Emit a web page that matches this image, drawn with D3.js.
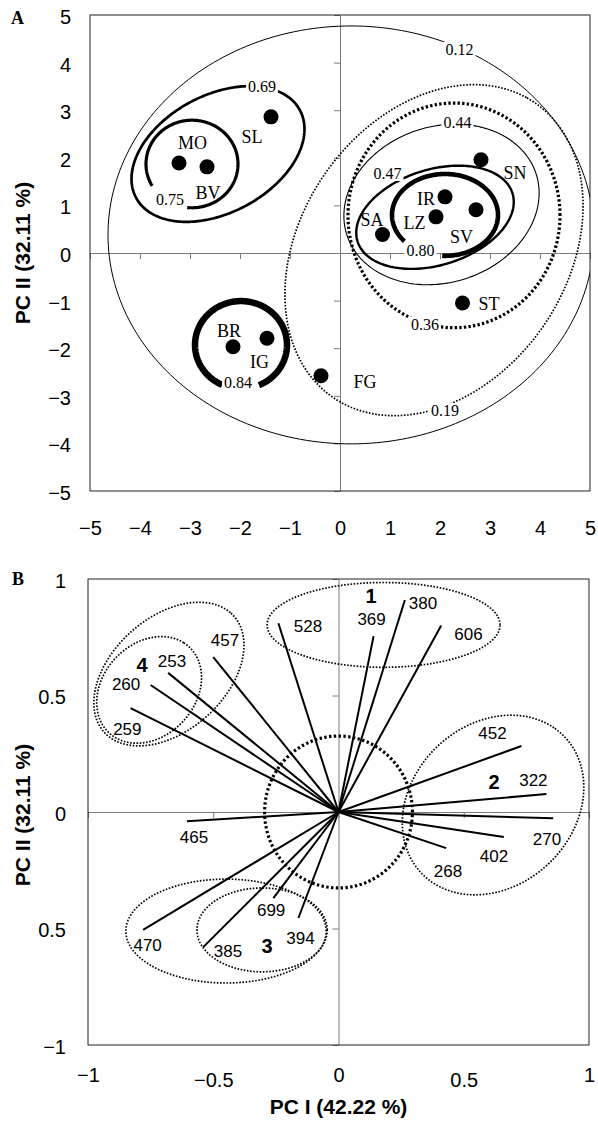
<!DOCTYPE html>
<html>
<head>
<meta charset="utf-8">
<script src="https://d3js.org/d3.v7.min.js"></script>
<style>
  body { margin: 0; background: #fff; }
  svg { display: block; }
</style>
</head>
<body>
<script>
// ---------- panel A : samples on PC I / PC II ----------
var sampleNames = ["MO", "BV", "SL", "SN", "IR", "LZ", "SV", "SA", "ST", "FG", "BR", "IG"];
var sampleX = [-3.22, -2.66, -1.38, 2.82, 2.10, 1.92, 2.72, 0.85, 2.45, -0.38, -2.14, -1.46];
var sampleY = [1.89, 1.81, 2.86, 1.96, 1.18, 0.76, 0.91, 0.39, -1.05, -2.58, -1.97, -1.79];
var sampleLabelX = [-2.95, -2.64, -1.76, 3.50, 1.72, 1.49, 2.43, 0.64, 2.98, 0.50, -2.22, -1.61];
var sampleLabelY = [2.32, 1.27, 2.43, 1.69, 1.13, 0.64, 0.33, 0.70, -1.07, -2.71, -1.64, -2.29];

// similarity contours, drawn as ellipses (PC units)
var levelNames = ["0.12", "0.19", "0.36", "0.44", "0.47", "0.69", "0.75", "0.80", "0.84"];
var levelCx = [0.22, 1.88, 2.28, 2.03, 1.90, -2.44, -2.96, 2.10, -1.98];
var levelCy = [0.38, 0.06, 0.79, 1.02, 0.75, 2.08, 1.87, 0.80, -1.93];
var levelA = [4.86, 3.70, 2.12, 2.00, 1.63, 1.88, 0.92, 1.06, 0.92];
var levelB = [4.39, 2.70, 2.36, 1.63, 1.00, 1.22, 0.92, 0.86, 0.92];
var levelAngle = [0, 60, 0, 22, 19, 31, 0, 0, 0];
var levelFrom = [0, 0, 0, 0, 0, 0, -96, -93, -67];
var levelTo = [360, 360, 360, 360, 360, 360, 210, 220, 246];
var levelLabelX = [2.39, 2.10, 1.70, 2.35, 0.95, -1.56, -3.40, 1.61, -2.04];
var levelLabelY = [4.28, -3.31, -1.50, 2.74, 1.67, 3.49, 1.12, 0.05, -2.72];

// ---------- panel B : loadings ----------
var loadingNames = ["259", "260", "253", "457", "528", "369", "380", "606", "452", "322", "270", "402", "268", "465", "470", "385", "699", "394"];
var loadingX = [-0.83, -0.75, -0.68, -0.50, -0.24, 0.14, 0.265, 0.41, 0.73, 0.83, 0.857, 0.66, 0.43, -0.605, -0.78, -0.54, -0.26, -0.16];
var loadingY = [0.446, 0.545, 0.597, 0.665, 0.81, 0.755, 0.91, 0.80, 0.283, 0.077, -0.027, -0.107, -0.155, -0.04, -0.506, -0.58, -0.37, -0.455];
var loadingLabelX = [-0.843, -0.848, -0.665, -0.453, -0.122, 0.132, 0.337, 0.519, 0.615, 0.778, 0.832, 0.621, 0.437, -0.577, -0.762, -0.441, -0.269, -0.152];
var loadingLabelY = [0.352, 0.549, 0.648, 0.738, 0.798, 0.828, 0.895, 0.762, 0.337, 0.137, -0.118, -0.191, -0.255, -0.109, -0.571, -0.599, -0.421, -0.541];

var groupNames = ["1", "2", "3", "4"];
var groupLabelX = [0.13, 0.621, -0.285, -0.784];
var groupLabelY = [0.925, 0.127, -0.577, 0.631];

// dotted rings round the groups (first one = central circle)
var ringCx = [0, 0.18, 0.617, -0.449, -0.305, -0.677, -0.756];
var ringCy = [0, 0.803, 0.03, -0.511, -0.506, 0.592, 0.524];
var ringA = [0.295, 0.465, 0.411, 0.40, 0.26, 0.36, 0.245];
var ringB = [0.326, 0.182, 0.333, 0.223, 0.18, 0.235, 0.19];
var ringAngle = [0, 0, 53.7, 0, 0, 47, 55.5];

// tick labels
var ticksA = [-5, -4, -3, -2, -1, 0, 1, 2, 3, 4, 5];
var ticksB = [-1, -0.5, 0, 0.5, 1];
var xTickLabelsB = ["\u22121", "\u22120.5", "0", "0.5", "1"];
var yTickLabelsB = ["\u22121", "0.5", "0", "0.5", "1"];

var SANS = "'Liberation Sans', Arial, sans-serif";
var SERIF = "'Liberation Serif', 'Times New Roman', serif";

var levelStyle = {
  "0.12": {w: 1, dash: null},
  "0.19": {w: 1.7, dash: "1.6 1.6"},
  "0.36": {w: 3.2, dash: "2.4 2.2"},
  "0.44": {w: 1.1, dash: null},
  "0.47": {w: 2.4, dash: null},
  "0.69": {w: 2.7, dash: null},
  "0.75": {w: 3.2, dash: null},
  "0.80": {w: 4.6, dash: null},
  "0.84": {w: 6.5, dash: null}
};

var svg = d3.select("body").append("svg")
  .attr("width", 598)
  .attr("height", 1126);

function ellipsePts(cx, cy, a, b, ang, t0, t1) {
  var th = ang * Math.PI / 180;
  return d3.range(0, 241).map(function(i) {
    var t = (t0 + (t1 - t0) * i / 240) * Math.PI / 180;
    var ex = a * Math.cos(t), ey = b * Math.sin(t);
    return [cx + ex * Math.cos(th) - ey * Math.sin(th), cy + ex * Math.sin(th) + ey * Math.cos(th)];
  });
}

function drawFrame(g, x, y, id) {
  var x0 = x.range()[0], x1 = x.range()[1], y0 = y.range()[1], y1 = y.range()[0];
  g.append("clipPath").attr("id", id).append("rect")
    .attr("x", x0).attr("y", y0).attr("width", x1 - x0).attr("height", y1 - y0);
}

// ================= PANEL A =================
var xA = d3.scaleLinear().domain([-5, 5]).range([90, 590]);
var yA = d3.scaleLinear().domain([-5, 5]).range([491, 15]);
var gA = svg.append("g");
drawFrame(gA, xA, yA, "clipA");

// zero lines with small ticks
gA.append("g")
  .attr("transform", "translate(0," + yA(0) + ")")
  .call(d3.axisBottom(xA).tickValues(ticksA).tickSize(6).tickSizeOuter(0).tickFormat(""))
  .call(function(s) { s.selectAll("path,line").attr("stroke", "#7a7a7a"); });
gA.append("g")
  .attr("transform", "translate(" + xA(0) + ",0)")
  .call(d3.axisLeft(yA).tickValues(ticksA).tickSize(6).tickSizeOuter(0).tickFormat(""))
  .call(function(s) { s.selectAll("path,line").attr("stroke", "#7a7a7a"); });

gA.append("rect")
  .attr("x", 90).attr("y", 15).attr("width", 500).attr("height", 476)
  .attr("fill", "none").attr("stroke", "#222").attr("stroke-width", 1);

// tick labels
gA.append("g")
  .attr("transform", "translate(0,491)")
  .call(d3.axisBottom(xA).tickValues(ticksA).tickSize(0).tickPadding(30))
  .call(function(s) {
    s.select(".domain").remove();
    s.selectAll("text").attr("font-size", 20).attr("font-family", SANS).attr("fill", "#000");
  });
gA.append("g")
  .attr("transform", "translate(90,0)")
  .call(d3.axisLeft(yA).tickValues(ticksA).tickSize(0).tickPadding(19))
  .call(function(s) {
    s.select(".domain").remove();
    s.selectAll("text").attr("font-size", 20).attr("font-family", SANS).attr("fill", "#000").attr("dy", "0.42em");
  });

// contours
var lineA = d3.line().x(function(d) { return xA(d[0]); }).y(function(d) { return yA(d[1]); });
var contourG = gA.append("g").attr("clip-path", "url(#clipA)");
levelNames.forEach(function(n, i) {
  var st = levelStyle[n];
  contourG.append("path")
    .attr("d", lineA(ellipsePts(levelCx[i], levelCy[i], levelA[i], levelB[i], levelAngle[i], levelFrom[i], levelTo[i])))
    .attr("fill", "none")
    .attr("stroke", "#000")
    .attr("stroke-width", st.w)
    .attr("stroke-dasharray", st.dash);
});

// contour labels sit in a gap of the line
levelNames.forEach(function(n, i) {
  var lg = gA.append("g");
  var t = lg.append("text")
    .attr("x", xA(levelLabelX[i])).attr("y", yA(levelLabelY[i]))
    .attr("text-anchor", "middle").attr("dominant-baseline", "central")
    .attr("font-family", SERIF).attr("font-size", 16)
    .text(n);
  var bb = t.node().getBBox();
  lg.insert("rect", "text")
    .attr("x", bb.x - 2).attr("y", bb.y + 1).attr("width", bb.width + 4).attr("height", bb.height - 2)
    .attr("fill", "#fff");
});

// samples
gA.selectAll("circle.sample")
  .data(sampleNames)
  .enter().append("circle")
  .attr("class", "sample")
  .attr("cx", function(d, i) { return xA(sampleX[i]); })
  .attr("cy", function(d, i) { return yA(sampleY[i]); })
  .attr("r", 7.5)
  .attr("fill", "#000");

gA.selectAll("text.sample")
  .data(sampleNames)
  .enter().append("text")
  .attr("class", "sample")
  .attr("x", function(d, i) { return xA(sampleLabelX[i]); })
  .attr("y", function(d, i) { return yA(sampleLabelY[i]); })
  .attr("text-anchor", "middle").attr("dominant-baseline", "central")
  .attr("font-family", SERIF).attr("font-size", 18)
  .text(function(d) { return d; });

svg.append("text").attr("x", 11).attr("y", 24)
  .attr("font-family", SERIF).attr("font-weight", "bold").attr("font-size", 18)
  .text("A");

svg.append("text")
  .attr("transform", "translate(30," + yA(0) + ") rotate(-90)")
  .attr("text-anchor", "middle")
  .attr("font-family", SANS).attr("font-weight", "bold").attr("font-size", 21)
  .text("PC II (32.11 %)");

// ================= PANEL B =================
var xB = d3.scaleLinear().domain([-1, 1]).range([88, 589]);
var yB = d3.scaleLinear().domain([-1, 1]).range([1045, 579]);
var gB = svg.append("g");
drawFrame(gB, xB, yB, "clipB");

gB.append("g")
  .attr("transform", "translate(0," + yB(0) + ")")
  .call(d3.axisBottom(xB).tickValues(ticksB).tickSize(6).tickSizeOuter(0).tickFormat(""))
  .call(function(s) { s.selectAll("path,line").attr("stroke", "#7a7a7a"); });
gB.append("g")
  .attr("transform", "translate(" + xB(0) + ",0)")
  .call(d3.axisLeft(yB).tickValues(ticksB).tickSize(6).tickSizeOuter(0).tickFormat(""))
  .call(function(s) { s.selectAll("path,line").attr("stroke", "#7a7a7a"); });

gB.append("rect")
  .attr("x", 88).attr("y", 579).attr("width", 501).attr("height", 466)
  .attr("fill", "none").attr("stroke", "#222").attr("stroke-width", 1);

gB.append("g")
  .attr("transform", "translate(0,1045)")
  .call(d3.axisBottom(xB).tickValues(ticksB).tickSize(0).tickPadding(23)
    .tickFormat(function(d, i) { return xTickLabelsB[i]; }))
  .call(function(s) {
    s.select(".domain").remove();
    s.selectAll("text").attr("font-size", 20).attr("font-family", SANS).attr("fill", "#000")
      .attr("y", function(d) { return Math.abs(d) === 0.5 ? 28 : 23; });
  });
gB.append("g")
  .attr("transform", "translate(88,0)")
  .call(d3.axisLeft(yB).tickValues(ticksB).tickSize(0).tickPadding(22)
    .tickFormat(function(d, i) { return yTickLabelsB[i]; }))
  .call(function(s) {
    s.select(".domain").remove();
    s.selectAll("text").attr("font-size", 20).attr("font-family", SANS).attr("fill", "#000").attr("dy", "0.42em");
  });

var lineB = d3.line().x(function(d) { return xB(d[0]); }).y(function(d) { return yB(d[1]); });
ringCx.forEach(function(c, i) {
  gB.append("path")
    .attr("d", lineB(ellipsePts(ringCx[i], ringCy[i], ringA[i], ringB[i], ringAngle[i], 0, 360)))
    .attr("fill", "none")
    .attr("stroke", "#000")
    .attr("stroke-width", i === 0 ? 3.2 : 1.7)
    .attr("stroke-dasharray", i === 0 ? "2.4 2.4" : "1.6 1.6");
});

gB.selectAll("line.load")
  .data(loadingNames)
  .enter().append("line")
  .attr("class", "load")
  .attr("x1", xB(0)).attr("y1", yB(0))
  .attr("x2", function(d, i) { return xB(loadingX[i]); })
  .attr("y2", function(d, i) { return yB(loadingY[i]); })
  .attr("stroke", "#000").attr("stroke-width", 2);

gB.selectAll("text.load")
  .data(loadingNames)
  .enter().append("text")
  .attr("class", "load")
  .attr("x", function(d, i) { return xB(loadingLabelX[i]); })
  .attr("y", function(d, i) { return yB(loadingLabelY[i]); })
  .attr("text-anchor", "middle").attr("dominant-baseline", "central")
  .attr("font-family", SANS).attr("font-size", 17)
  .text(function(d) { return d; });

gB.selectAll("text.group")
  .data(groupNames)
  .enter().append("text")
  .attr("class", "group")
  .attr("x", function(d, i) { return xB(groupLabelX[i]); })
  .attr("y", function(d, i) { return yB(groupLabelY[i]); })
  .attr("text-anchor", "middle").attr("dominant-baseline", "central")
  .attr("font-family", SANS).attr("font-weight", "bold").attr("font-size", 20)
  .text(function(d) { return d; });

svg.append("text").attr("x", 12).attr("y", 585)
  .attr("font-family", SERIF).attr("font-weight", "bold").attr("font-size", 18)
  .text("B");

svg.append("text")
  .attr("transform", "translate(30," + (yB(0) + 3) + ") rotate(-90)")
  .attr("text-anchor", "middle")
  .attr("font-family", SANS).attr("font-weight", "bold").attr("font-size", 21)
  .text("PC II (32.11 %)");

svg.append("text")
  .attr("x", xB(0)).attr("y", 1114)
  .attr("text-anchor", "middle")
  .attr("font-family", SANS).attr("font-weight", "bold").attr("font-size", 21)
  .text("PC I (42.22 %)");
</script>
</body>
</html>
